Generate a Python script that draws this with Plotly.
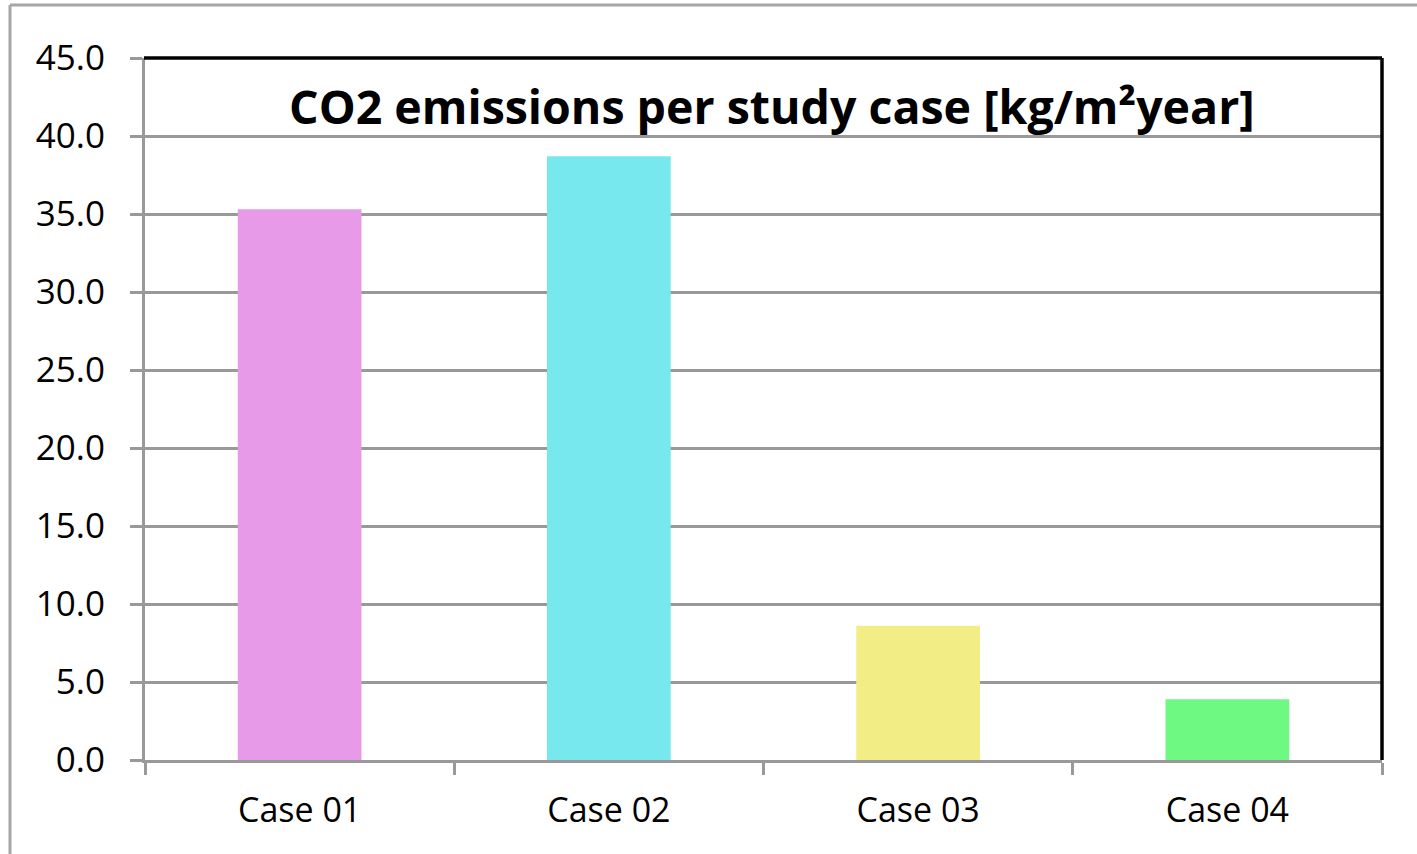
import plotly.graph_objects as go

# Study cases and annual CO2 emissions [kg/m2 year]
cases = ["Case 01", "Case 02", "Case 03", "Case 04"]
emissions = [35.3, 38.7, 8.6, 3.9]
bar_colors = ["#E69AE8", "#76E8EE", "#F2EE85", "#6EFA82"]
y_ticks = [0, 5, 10, 15, 20, 25, 30, 35, 40, 45]
y_tick_labels = [f"{v:.1f}" for v in y_ticks]

W, H = 1417, 854
L, R, T, B = 145, 35, 58, 94
pw, ph = W - L - R, H - T - B


def px_x(x):
    return (x - L) / pw


def px_y(y):
    return (H - B - y) / ph


fig = go.Figure(
    go.Bar(
        x=cases,
        y=emissions,
        marker=dict(color=bar_colors, line=dict(width=0)),
        showlegend=False,
    )
)

font_family = "Open Sans"
grid_col = "#999999"

fig.update_layout(
    width=W,
    height=H,
    margin=dict(l=L, r=R, t=T, b=B, pad=0),
    paper_bgcolor="white",
    plot_bgcolor="white",
    bargap=0.6,
    font=dict(family=font_family, color="black"),
    xaxis=dict(
        showline=True,
        linecolor=grid_col,
        linewidth=3,
        ticks="outside",
        tickson="boundaries",
        ticklen=12,
        tickwidth=2.5,
        tickcolor=grid_col,
        tickfont=dict(size=34, family=font_family),
        ticklabelstandoff=18,
        showgrid=False,
        fixedrange=True,
    ),
    yaxis=dict(
        range=[0, 45],
        tickvals=y_ticks,
        ticktext=y_tick_labels,
        showline=True,
        linecolor=grid_col,
        linewidth=3,
        ticks="outside",
        ticklen=12,
        tickwidth=2.5,
        tickcolor=grid_col,
        tickfont=dict(size=35, family=font_family),
        ticklabelstandoff=18,
        showgrid=True,
        gridcolor=grid_col,
        gridwidth=2.5,
        zeroline=False,
        fixedrange=True,
    ),
)

# Plot frame: black top and right edges
fig.add_shape(type="line", xref="paper", yref="paper", x0=px_x(L - 1), x1=1.0, y0=1.0, y1=1.0,
              line=dict(color="black", width=3.5))
fig.add_shape(type="line", xref="paper", yref="paper", x0=1.0, x1=1.0, y0=0.0, y1=1.0,
              line=dict(color="black", width=3.5))

# Outer chart border (left and top edges)
fig.add_shape(type="line", xref="paper", yref="paper", x0=px_x(10), x1=px_x(10), y0=px_y(5), y1=px_y(H + 10),
              line=dict(color="#A6A6A6", width=3))
fig.add_shape(type="line", xref="paper", yref="paper", x0=px_x(10), x1=px_x(W + 10), y0=px_y(5), y1=px_y(5),
              line=dict(color="#A6A6A6", width=3))

# Title inside the plot area
fig.add_annotation(
    xref="paper", yref="paper",
    x=px_x(772), y=px_y(106),
    text="<b>CO2 emissions per study case [kg/m²year]</b>",
    showarrow=False,
    font=dict(size=46.5, family=font_family, color="black"),
    xanchor="center", yanchor="middle",
)

fig.write_html("out.html")
